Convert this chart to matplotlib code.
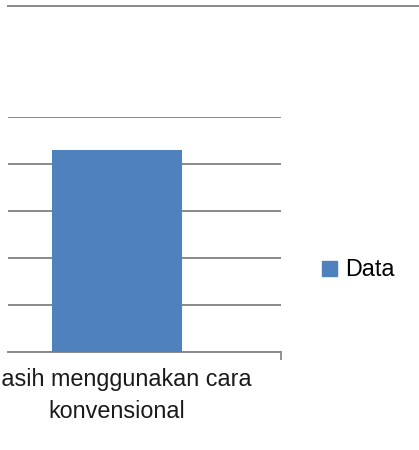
import matplotlib
matplotlib.use("Agg")
import matplotlib.pyplot as plt
from matplotlib.lines import Line2D
from matplotlib.patches import Rectangle

categories = ["Masih menggunakan cara\nkonvensional"]
values = [4.3]
series_name = "Data"
y_ticks = [0, 1, 2, 3, 4, 5]

W, H = 419, 450
fig = plt.figure(figsize=(W / 100, H / 100), dpi=100)
plt.rcParams['font.family'] = ['Liberation Sans', 'DejaVu Sans']

grid_c = "#898989"
bar_c = "#4F81BD"

# axes occupies x 8..281, y 117..352 (pixels from top)
ax = fig.add_axes([8 / W, (H - 352) / H, (281 - 8) / W, (352 - 117) / H])
bar_w = 1.0
x = list(range(len(categories)))
ax.bar(x, values, width=bar_w, color=bar_c, zorder=3)
ax.set_xlim(-0.838, 1.262)
ax.set_ylim(0, 5)
ax.set_yticks(y_ticks)
ax.yaxis.grid(True, color=grid_c, linewidth=1.4, zorder=0)
ax.set_axisbelow(True)
ax.tick_params(axis='y', left=False, labelleft=False)
ax.set_xticks([1.262])
ax.set_xticklabels([""])
ax.tick_params(axis='x', direction='out', length=6, width=1.3, color=grid_c)
for s in ["left", "right", "top"]:
    ax.spines[s].set_visible(False)
ax.spines["bottom"].set_color(grid_c)
ax.spines["bottom"].set_linewidth(1.4)
ax.set_facecolor("none")

for xi, cat in zip(x, categories):
    ax.text(xi, -0.07, cat, ha='center', va='top', fontsize=16.8,
            color="#1a1a1a", linespacing=1.45, clip_on=False,
            transform=ax.get_xaxis_transform())

# top border line
fig.add_artist(Line2D([8 / W, 1.0], [1 - 6 / H, 1 - 6 / H], color=grid_c, linewidth=1.4))

# legend
leg = ax.legend([Rectangle((0, 0), 1, 1, color=bar_c)], [series_name],
                loc='center left', bbox_to_anchor=(322 / W, 1 - 270 / H),
                bbox_transform=fig.transFigure, frameon=False, fontsize=16.8,
                handlelength=0.65, handleheight=0.65, handletextpad=0.35,
                borderaxespad=0, borderpad=0)

fig.savefig("out.png", dpi=100)
